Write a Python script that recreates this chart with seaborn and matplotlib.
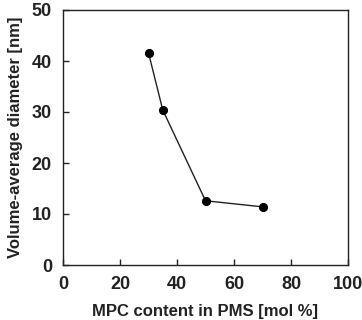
import matplotlib
matplotlib.use("Agg")
import matplotlib.pyplot as plt
import seaborn as sns
import pandas as pd

mpc = [30, 35, 50, 70]
diameter = [41.6, 30.4, 12.6, 11.4]

sns.set_style("white")
plt.rcParams['font.family'] = ['Liberation Sans', 'DejaVu Sans']
plt.rcParams['font.weight'] = 'bold'

df = pd.DataFrame({"mpc": mpc, "d": diameter})
fig = plt.figure(figsize=(3.62, 3.2), dpi=100)
ax = fig.add_axes([63/362, 1 - 265/320, 285/362, 255/320])
sns.lineplot(data=df, x="mpc", y="d", ax=ax, color="#222222", linewidth=1.0,
             marker="o", markersize=5.8, markerfacecolor="black", markeredgecolor="black")
ax.set_xlim(0, 100)
ax.set_ylim(0, 50)
ax.set_xticks([0, 20, 40, 60, 80, 100])
ax.set_yticks([0, 10, 20, 30, 40, 50])
ax.tick_params(direction="in", length=4, width=1, colors="#222222", labelsize=13,
               top=False, right=False, left=True, bottom=True, pad=8)
for lab in ax.get_xticklabels() + ax.get_yticklabels():
    lab.set_fontweight("bold")
    lab.set_color("#222222")
for s in ax.spines.values():
    s.set_color("#222222")
    s.set_linewidth(1.0)
ax.set_xlabel("MPC content in PMS [mol %]", fontsize=12, fontweight="bold", color="#222222", labelpad=8)
ax.set_ylabel("Volume-average diameter [nm]", fontsize=12, fontweight="bold", color="#222222", labelpad=6)
fig.savefig("out.png", dpi=100)
